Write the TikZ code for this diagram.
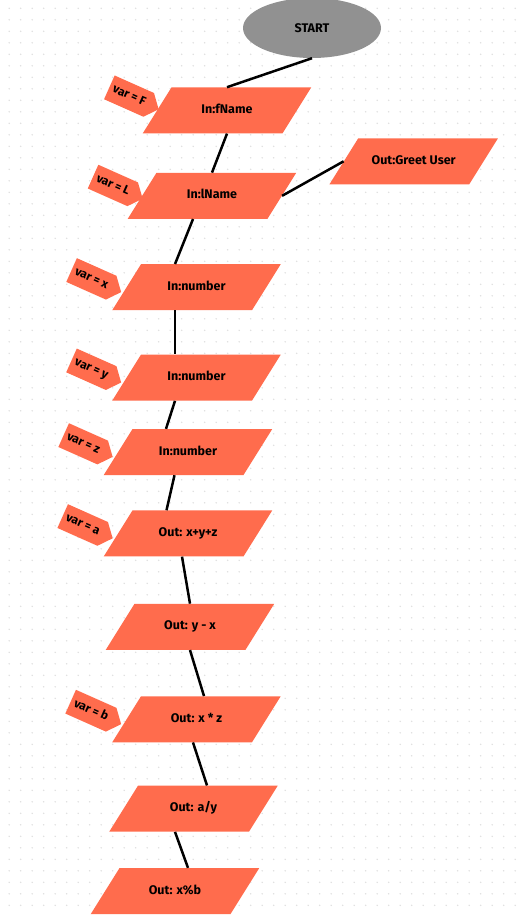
\documentclass[tikz,border=0pt]{standalone}
\usepackage{fontspec}
\setmainfont{Fira Sans}
\usetikzlibrary{shapes,arrows,positioning,calc}
\definecolor{coral}{RGB}{255,108,77}
\definecolor{startgray}{RGB}{145,145,145}
\definecolor{griddot}{RGB}{222,222,222}

\begin{document}
\begin{tikzpicture}[x=1pt, y=-1pt,
    io/.style={trapezium, trapezium left angle=58, trapezium right angle=122, fill=coral, text height=9pt, text depth=3pt, inner xsep=0pt, inner ysep=17pt, font=\bfseries\fontsize{12.5}{14}\selectfont, text=black,
        execute at begin node={\hbox to 111pt\bgroup\hss}, execute at end node={\hss\egroup}},
    tag/.style={signal, signal to=east, signal pointer angle=100, fill=coral, text height=8pt, text depth=2pt, inner xsep=4pt, inner ysep=8pt, font=\bfseries\fontsize{12}{13}\selectfont, text=black, anchor=east, rotate=-24},
    terminal/.style={ellipse, fill=startgray, minimum width=138pt, minimum height=60pt, font=\bfseries\fontsize{12.5}{13}\selectfont, text=black},
    link/.style={line width=2.5pt, black},
    node distance=40pt
]
    \fill[white] (0,0) rectangle (524,915);
    \useasboundingbox (0,0) rectangle (524,915);
    \foreach \i in {0,...,45}
        \foreach \j in {0,...,79}
            \fill[griddot] (9.2+11.5*\i, 8.3+11.5*\j) circle (0.8pt);

    \node[terminal] (start) at (312,28) {START};
    \node[io, below=29pt of start, xshift=-85pt] (fname) {In:fName};
    \node[io, below=39pt of fname, xshift=-15pt] (lname) {In:lName};
    \node[io, right=61.5pt of lname, yshift=34.5pt] (greet) {Out:Greet User};
    \node[io, below=45pt of lname, xshift=-15.5pt] (inx) {In:number};
    \node[io, below=44pt of inx] (iny) {In:number};
    \node[io, below=28pt of iny, xshift=-8.5pt] (inz) {In:number};
    \node[io, below=35pt of inz] (suma) {Out: x+y+z};
    \node[io, below=47pt of suma, xshift=2pt] (diff) {Out: y - x};
    \node[io, below=46pt of diff, xshift=6.5pt] (prodb) {Out: x * z};
    \node[io, below=43pt of prodb, xshift=-3pt] (quot) {Out: a/y};
    \node[io, below=36pt of quot, xshift=-18.5pt] (modb) {Out: x\%b};

    \node[tag] (tagf) at ([xshift=2pt, yshift=1pt]fname.west) {var = F};
    \node[tag] (tagl) at ([xshift=1pt, yshift=-3pt]lname.west) {var = L};
    \node[tag] (tagx) at ([xshift=-5pt, yshift=-5pt]inx.west) {var = x};
    \node[tag] (tagy) at ([xshift=-5pt, yshift=-5pt]iny.west) {var = y};
    \node[tag] (tagz) at ([xshift=-5pt, yshift=-5pt]inz.west) {var = z};
    \node[tag] (taga) at ([xshift=-5pt, yshift=-5pt]suma.west) {var = a};
    \node[tag] (tagb) at ([xshift=-5pt, yshift=-5pt]prodb.west) {var = b};

    \draw[link] (start.south) -- (fname.north);
    \draw[link] (fname.south) -- (lname.north);
    \draw[link] (lname.east) -- (greet.west);
    \draw[link] ([xshift=-19pt]lname.south) -- ([xshift=-21.5pt]inx.north);
    \draw[link] ([xshift=-21.5pt]inx.south) -- ([xshift=-21.5pt]iny.north);
    \draw[link] ([xshift=-21.5pt]iny.south) -- ([xshift=-22pt]inz.north);
    \draw[link] ([xshift=-13.5pt]inz.south) -- ([xshift=-21.5pt]suma.north);
    \draw[link] ([xshift=-6pt]suma.south) -- (diff.north);
    \draw[link] (diff.south) -- ([xshift=7.5pt]prodb.north);
    \draw[link] ([xshift=-3.5pt]prodb.south) -- ([xshift=13.5pt]quot.north);
    \draw[link] ([xshift=-18.5pt]quot.south) -- ([xshift=13pt]modb.north);
\end{tikzpicture}
\end{document}
